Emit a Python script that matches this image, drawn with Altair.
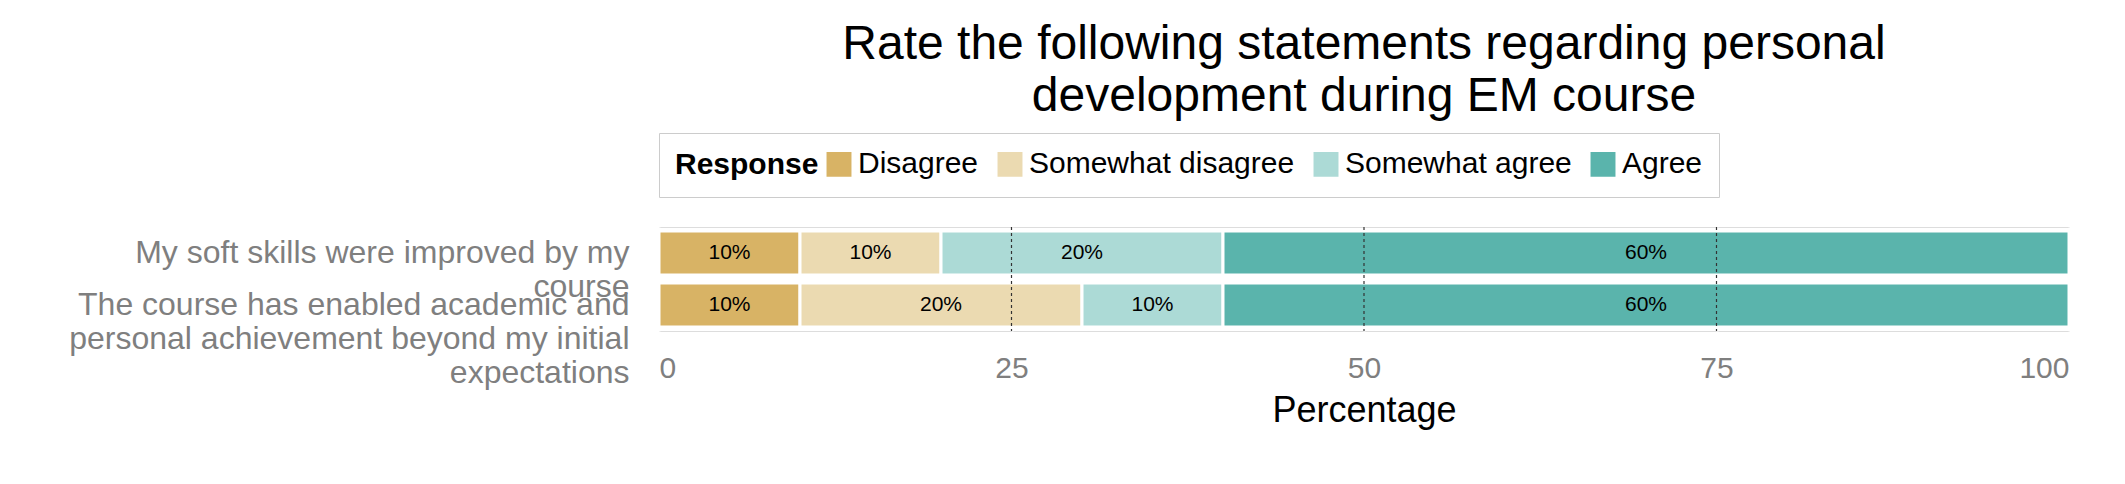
import altair as alt
import pandas as pd

STATEMENTS = [
    "My soft skills were improved by my|course",
    "The course has enabled academic and|personal achievement beyond my initial|expectations",
]
RESPONSES = ["Disagree", "Somewhat disagree", "Somewhat agree", "Agree"]
COLORS = ["#d8b365", "#ebdab1", "#acdad6", "#5ab4ac"]
VALUES = [
    [10, 10, 20, 60],
    [10, 20, 10, 60],
]

rows = []
for s, vals in zip(STATEMENTS, VALUES):
    start = 0
    for r, v in zip(RESPONSES, vals):
        rows.append({"stmt": s, "resp": r, "order": RESPONSES.index(r), "x0": start, "x1": start + v,
                     "mid": start + v / 2, "lab": f"{v}%"})
        start += v
df = pd.DataFrame(rows)

y = alt.Y("stmt:N", sort=STATEMENTS, title=None,
          axis=alt.Axis(labelExpr="split(datum.label, '|')", labelFontSize=32, labelColor="#7f7f7f",
                        labelLimit=700, ticks=False, domain=False, labelPadding=30, labelLineHeight=34))

bars = alt.Chart(df).mark_bar(stroke="white", strokeWidth=3, height=44).encode(
    x=alt.X("x0:Q", scale=alt.Scale(domain=[0, 100], nice=False), title="Percentage",
            axis=alt.Axis(values=[0, 25, 50, 75, 100], labelFontSize=30, labelColor="#7f7f7f",
                          titleFontSize=36, titleFontWeight="normal", titleColor="black",
                          ticks=False, domain=False, grid=True, gridColor="white", gridWidth=2,
                          labelPadding=22, titlePadding=10)),
    x2="x1:Q",
    y=y,
    color=alt.Color("resp:N", scale=alt.Scale(domain=RESPONSES, range=COLORS),
                    legend=alt.Legend(title="Response", orient="top", direction="horizontal",
                                      titleFontSize=30, labelFontSize=30, titleOrient="left",
                                      symbolType="square", symbolSize=700, strokeColor="#cccccc",
                                      padding=16, columnPadding=14, labelLimit=400,
                                      offset=30)),
    order="order:Q",
)

text = alt.Chart(df).mark_text(fontSize=21, color="black").encode(
    x="mid:Q", y=alt.Y("stmt:N", sort=STATEMENTS), text="lab:N")

vlines = alt.Chart(pd.DataFrame({"v": [25, 50, 75]})).mark_rule(
    strokeDash=[3, 3], color="#333333", strokeWidth=1.2).encode(x="v:Q")

chart = (bars + text + vlines).properties(
    width=1410, height=104,
    padding={"left": 60, "top": 12, "right": 5, "bottom": 5},
    title=alt.TitleParams(["Rate the following statements regarding personal",
                           "development during EM course"],
                          fontSize=48, fontWeight="normal", anchor="middle", offset=12,
                          lineHeight=52),
).configure_view(stroke="#bbbbbb", strokeWidth=4).configure(font="Liberation Sans")

chart.save("out.html", embed_options={"renderer": "svg", "actions": False})
